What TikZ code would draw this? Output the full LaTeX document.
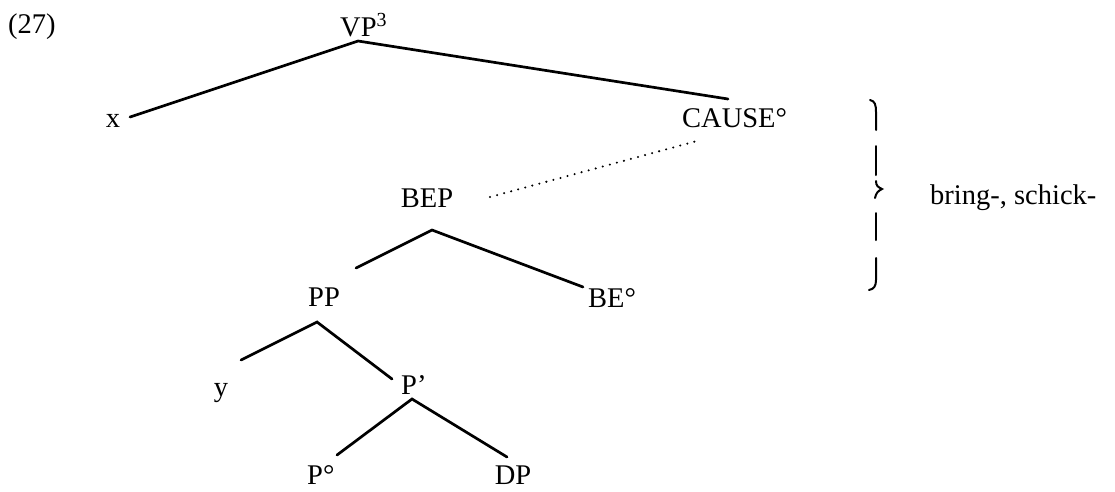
\documentclass[tikz,border=0pt]{standalone}
\usepackage{fontspec}
\setmainfont{Liberation Serif}
\begin{document}
\begin{tikzpicture}[x=1pt,y=-1pt,
  lbl/.style={inner sep=0pt,font=\fontsize{28.5}{32}\selectfont},
  edge/.style={line width=2.7pt,line cap=round},
  dots/.style={line width=2.3pt,line cap=round,dash pattern=on 0pt off 7.3pt},
  bracepart/.style={line width=2pt,line cap=round}]
\useasboundingbox (0,0) rectangle (1115,491);
% labels
\node[lbl,anchor=base west] (ex) at (8,33) {(27)};
\node[lbl,anchor=base west] (vp) at (340,36) {VP\textsuperscript{3}};
\node[lbl,anchor=base] (x) at (113,127) {x};
\node[lbl,anchor=base west] (cause) at (682,127) {CAUSE°};
\node[lbl,anchor=base] (bep) at (427,207) {BEP};
\node[lbl,anchor=base] (pp) at (324,306) {PP};
\node[lbl,anchor=base west] (be) at (588,307) {BE°};
\node[lbl,anchor=base] (y) at (221,396) {y};
\node[lbl,anchor=base west] (pbar) at (401,394) {P’};
\node[lbl,anchor=base west] (p0) at (307,484) {P°};
\node[lbl,anchor=base] (dp) at (513,484) {DP};
\node[lbl,anchor=base west] (gloss) at (930,204) {bring-, schick-};
% connector end points
\coordinate (vpT) at (358,41);
\coordinate (xT) at (130,117);
\coordinate (causeT) at (728,99);
\coordinate (bepT) at (432,230);
\coordinate (bepR) at (490,197);
\coordinate (causeB) at (697,141);
\coordinate (ppT) at (356,268);
\coordinate (beT) at (583,287);
\coordinate (ppB) at (317,322);
\coordinate (yT) at (241,360);
\coordinate (pbarT) at (392,379);
\coordinate (pbarB) at (412,399);
\coordinate (p0T) at (337,455);
\coordinate (dpT) at (507,457);
% connectors
\draw[edge] (xT) -- (vpT) -- (causeT);
\draw[dots] (bepR) -- (causeB);
\draw[edge] (ppT) -- (bepT) -- (beT);
\draw[edge] (yT) -- (ppB) -- (pbarT);
\draw[edge] (p0T) -- (pbarB) -- (dpT);
% broken brace
\draw[bracepart] (870,100) .. controls (875,101) and (876,105) .. (876,112) -- (876,130);
\draw[bracepart] (876,146) -- (876,175);
\draw[bracepart] (876,181) .. controls (876,186) and (878,187) .. (882,189) .. controls (878,191) and (876,193) .. (875,198);
\draw[bracepart] (876,213) -- (876,240);
\draw[bracepart] (876,258) -- (876,280) .. controls (876,286) and (874,289) .. (869,290);
\end{tikzpicture}
\end{document}
